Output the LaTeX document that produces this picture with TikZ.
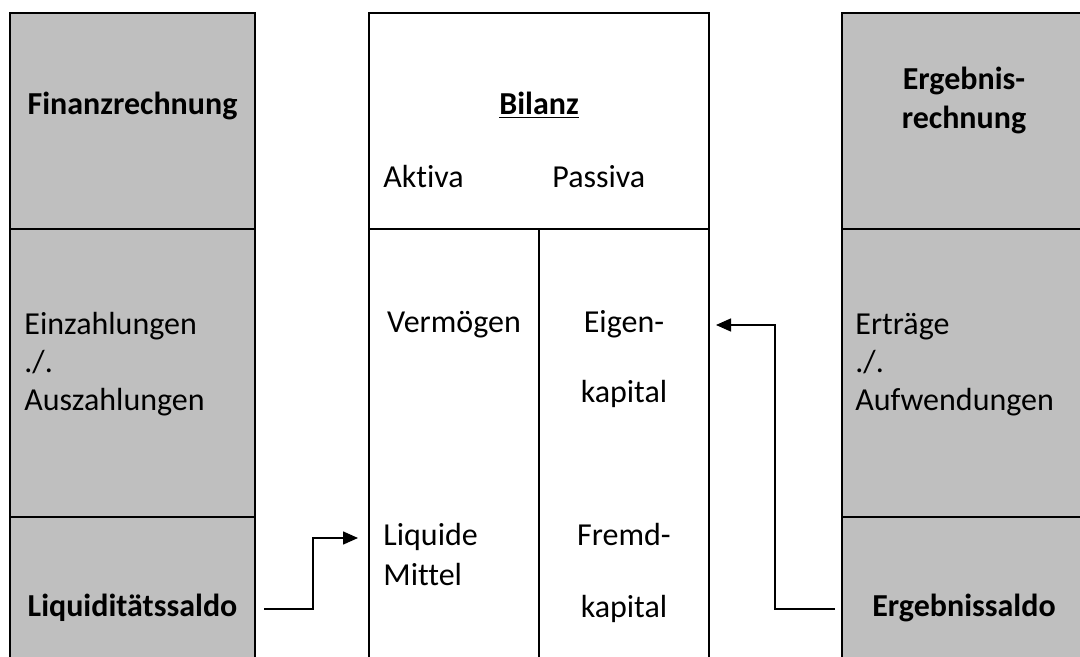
\documentclass[tikz,border=0pt]{standalone}
\usepackage{fontspec}
\setmainfont{Carlito}[RawFeature={-liga}]
\usetikzlibrary{arrows.meta}
\definecolor{cellgray}{RGB}{191,191,191}
\begin{document}
\begin{tikzpicture}[x=0.5pt,y=-0.5pt,
  cell/.style={draw, line width=1pt, inner sep=0pt, outer sep=0pt},
  gcell/.style={cell, fill=cellgray},
  txt/.style={inner sep=0pt, text height=11pt, text depth=3.5pt, font=\fontsize{16}{19.5}\selectfont},
  btxt/.style={txt, font=\fontsize{16}{19.5}\selectfont\bfseries},
  conn/.style={line width=0.75pt, -{Triangle[length=7.5pt,width=6.5pt]}}]
\useasboundingbox (0,0) rectangle (1080,657);
\begin{scope}
\clip (0,0) rectangle (1080,657);
% left column
\node[gcell, minimum width=122.5pt, minimum height=108pt] (ltop) at (132.5,121) {};
\node[gcell, minimum width=122.5pt, minimum height=144pt] (lmid) at (132.5,373) {};
\node[gcell, minimum width=122.5pt, minimum height=92pt] (lbot) at (132.5,609) {};
% middle column
\node[cell, fill=white, minimum width=170pt, minimum height=108pt] (mtop) at (539,121) {};
\node[cell, fill=white, minimum width=85pt, minimum height=236pt] (mll) at (454,465) {};
\node[cell, fill=white, minimum width=85pt, minimum height=236pt] (mlr) at (624,465) {};
% right column
\node[gcell, minimum width=122.5pt, minimum height=108pt] (rtop) at (964.5,121) {};
\node[gcell, minimum width=122.5pt, minimum height=144pt] (rmid) at (964.5,373) {};
\node[gcell, minimum width=122.5pt, minimum height=92pt] (rbot) at (964.5,609) {};
\end{scope}
% texts
\node[btxt] (fin) at (132.5,107) {Finanzrechnung};
\node[txt, anchor=west] (ein) at (24,327) {Einzahlungen};
\node[txt, anchor=west] (minusl) at (24,365) {./.};
\node[txt, anchor=west] (aus) at (24,403) {Auszahlungen};
\node[btxt] (lsaldo) at (132.5,609) {Liquiditätssaldo};

\node[btxt] (bil) at (539,107) {\underline{Bilanz}};
\node[txt, anchor=west] (akt) at (383,180) {Aktiva};
\node[txt, anchor=west] (pas) at (552,180) {Passiva};
\node[txt] (verm) at (454,325) {Vermögen};
\node[txt] (eigen) at (624,325) {Eigen-};
\node[txt] (ekap) at (624,395) {kapital};
\node[txt, anchor=west] (liquide) at (383,538) {Liquide};
\node[txt, anchor=west] (mittel) at (383,578) {Mittel};
\node[txt] (fremd) at (624,538) {Fremd-};
\node[txt] (fkap) at (624,610) {kapital};

\node[btxt] (erg1) at (964,82) {Ergebnis-};
\node[btxt] (erg2) at (964,121) {rechnung};
\node[txt, anchor=west] (ertr) at (855,327) {Erträge};
\node[txt, anchor=west] (minusr) at (855,365) {./.};
\node[txt, anchor=west] (aufw) at (855,403) {Aufwendungen};
\node[btxt] (esaldo) at (964,609) {Ergebnissaldo};

% connectors
\coordinate (t1) at (mll.west |- liquide.west);
\coordinate (t2) at (mlr.east |- eigen.center);
\draw[conn] ([xshift=4.5pt]lbot.east) -- ++(24.5pt,0) |- ([xshift=-5.5pt]t1);
\draw[conn] ([xshift=-3.5pt]rbot.west) -- ++(-30pt,0) |- ([xshift=3.5pt]t2);
\end{tikzpicture}
\end{document}
